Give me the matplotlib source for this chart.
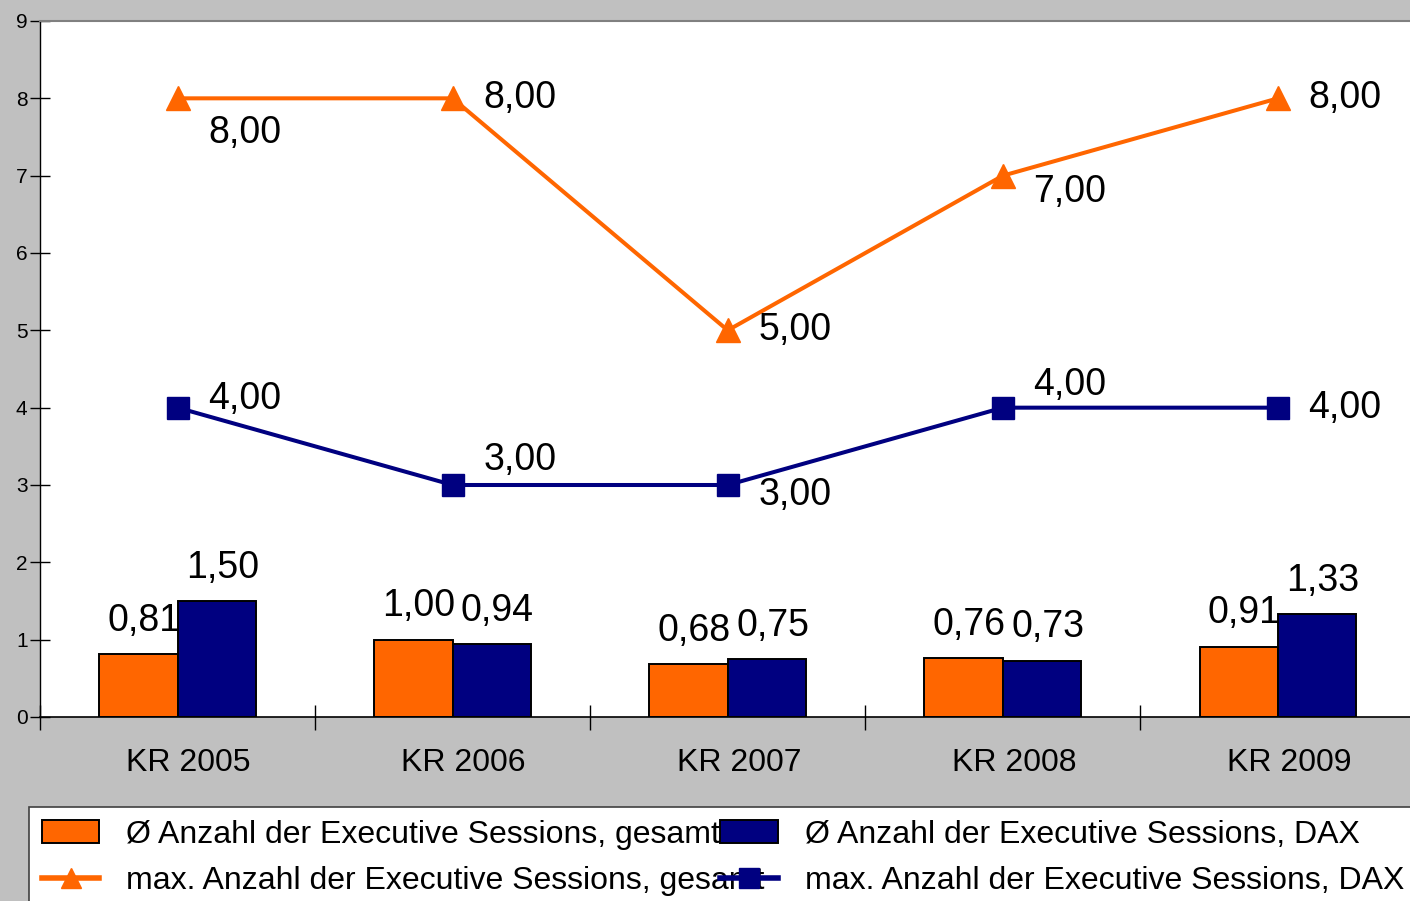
import numpy as np
import matplotlib.pyplot as plt
from matplotlib.lines import Line2D
from matplotlib.patches import Patch, Rectangle

plt.rcParams['font.family'] = ['Liberation Sans', 'DejaVu Sans']

categories = ['KR 2005', 'KR 2006', 'KR 2007', 'KR 2008', 'KR 2009']
avg_total = [0.81, 1.00, 0.68, 0.76, 0.91]
avg_dax = [1.50, 0.94, 0.75, 0.73, 1.33]
max_total = [8, 8, 5, 7, 8]
max_dax = [4, 3, 3, 4, 4]

series_names = ['Ø Anzahl der Executive Sessions, gesamt',
                'Ø Anzahl der Executive Sessions, DAX',
                'max. Anzahl der Executive Sessions, gesamt',
                'max. Anzahl der Executive Sessions, DAX']

# label offsets in points (per point)
off_max_total = [(22, -25), (22, 0), (22, 0), (22, -12), (22, 0)]
off_max_dax = [(22, 6), (22, 18), (22, -7), (22, 16), (22, 0)]

orange = '#FF6600'
navy = '#000080'

def fmt(v):
    return f'{v:.2f}'.replace('.', ',')

fig = plt.figure(figsize=(14.1, 9.01), dpi=100, facecolor='#C0C0C0')
ax = fig.add_axes([40/1410, 184/901, 1 - 40/1410, 696/901])
ax.set_facecolor('white')

x = np.arange(len(categories))
w = 0.285
ax.bar(x - w/2, avg_total, w, color=orange, edgecolor='black', linewidth=1.4, zorder=2)
ax.bar(x + w/2, avg_dax, w, color=navy, edgecolor='black', linewidth=1.4, zorder=2)
ax.plot(x, max_total, color=orange, lw=2.9, marker='^', ms=17, zorder=3)
ax.plot(x, max_dax, color=navy, lw=2.9, marker='s', ms=16, zorder=3)

for i in range(len(x)):
    ax.annotate(fmt(avg_total[i]), (x[i] - w/2, avg_total[i]), xytext=(4, 24),
                textcoords='offset points', ha='center', va='center', fontsize=27)
    ax.annotate(fmt(avg_dax[i]), (x[i] + w/2, avg_dax[i]), xytext=(4, 24),
                textcoords='offset points', ha='center', va='center', fontsize=27)
    ax.annotate(fmt(max_total[i]), (x[i], max_total[i]), xytext=off_max_total[i],
                textcoords='offset points', ha='left', va='center', fontsize=27)
    ax.annotate(fmt(max_dax[i]), (x[i], max_dax[i]), xytext=off_max_dax[i],
                textcoords='offset points', ha='left', va='center', fontsize=27)
    ax.text(x[i] + 0.04, -0.045, categories[i], transform=ax.get_xaxis_transform(),
            ha='center', va='top', fontsize=23)

ax.set_xlim(-0.5, 4.48)
ax.set_ylim(0, 9)
ax.set_yticks(range(10))
ax.tick_params(axis='y', direction='inout', length=14, width=1, labelsize=15, pad=2)
ax.set_xticks(np.arange(-0.5, 4.0, 1.0))
ax.set_xticklabels([])
ax.tick_params(axis='x', direction='inout', length=18, width=1)
ax.spines['right'].set_visible(False)
ax.spines['top'].set_color('#808080')
ax.spines['top'].set_linewidth(1.5)
ax.spines['left'].set_linewidth(1)
ax.spines['bottom'].set_linewidth(1.2)

# legend box runs off the right and bottom edge
fig.patches.append(Rectangle((29/1410, -0.05), 1.0, 94/901 + 0.05, transform=fig.transFigure,
                             facecolor='white', edgecolor='#404040', linewidth=1.2, zorder=0))

handles = [Patch(facecolor=orange, edgecolor='black', linewidth=1.4),
           Line2D([], [], color=orange, lw=4, marker='^', ms=14),
           Patch(facecolor=navy, edgecolor='black', linewidth=1.4),
           Line2D([], [], color=navy, lw=4, marker='s', ms=14)]
labels = [series_names[0], series_names[2], series_names[1], series_names[3]]
leg = fig.legend(handles, labels, ncol=2, loc='upper left',
                 bbox_to_anchor=(29/1410, 94/901), fontsize=23,
                 frameon=False, handlelength=1.8, handletextpad=0.85, columnspacing=-1.4,
                 labelspacing=0.5, borderpad=0.4, borderaxespad=0)

fig.savefig('out.png', dpi=100, facecolor=fig.get_facecolor())
